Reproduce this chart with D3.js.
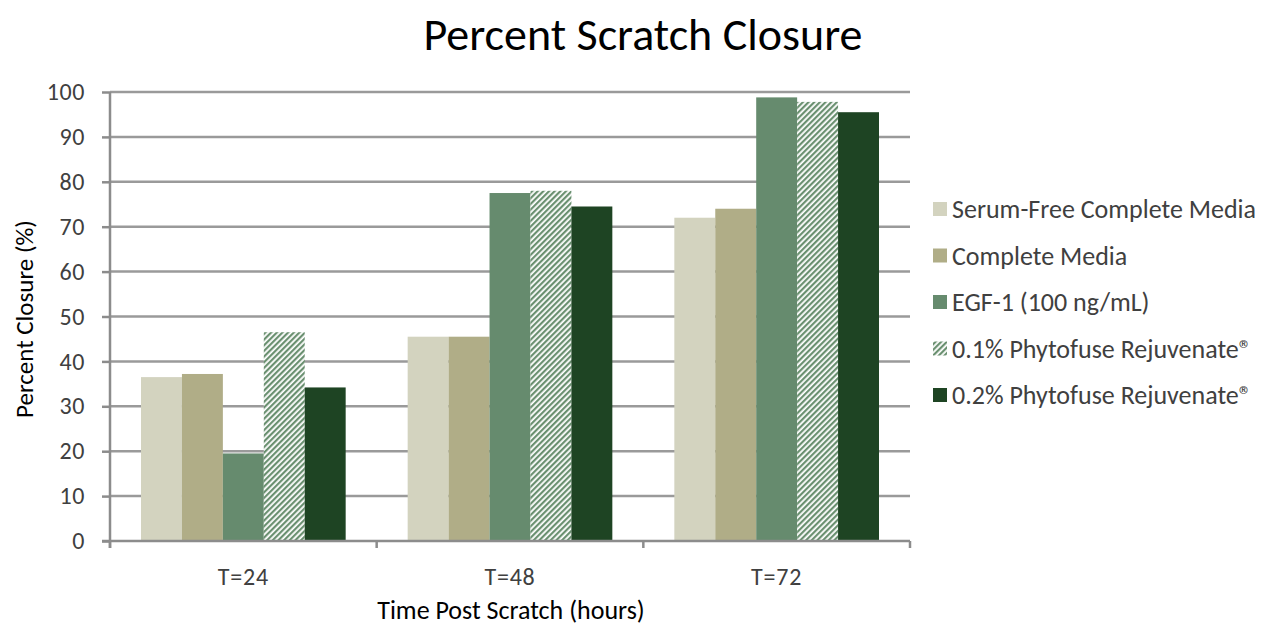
<!DOCTYPE html>
<html>
<head>
<meta charset="utf-8">
<script src="https://cdn.jsdelivr.net/npm/d3@7"></script>
<style>
  body { margin: 0; background: #fff; }
  text { font-family: Carlito, "Open Sans", "Noto Sans", sans-serif; fill: #262626; }
</style>
</head>
<body>
<svg id="chart" width="1263" height="628"></svg>
<script>
// data
var times = ["T=24", "T=48", "T=72"];
var series = ["Serum-Free Complete Media", "Complete Media", "EGF-1 (100 ng/mL)",
              "0.1% Phytofuse Rejuvenate\u00AE", "0.2% Phytofuse Rejuvenate\u00AE"];
var serumFree = [36.5, 45.5, 72.0];
var complete  = [37.2, 45.5, 74.0];
var egf       = [19.5, 77.5, 98.8];
var phyto01   = [46.5, 78.0, 97.8];
var phyto02   = [34.2, 74.5, 95.5];
var yTicks = [0, 10, 20, 30, 40, 50, 60, 70, 80, 90, 100];

var values = [serumFree, complete, egf, phyto01, phyto02];
var colors = ["#d3d3bf", "#b0ad87", "#668b6e", "url(#hatch)", "#1e4423"];

var svg = d3.select("#chart");
var plotLeft = 110, plotRight = 910, plotTop = 92, plotBottom = 541;

var defs = svg.append("defs");
var pat = defs.append("pattern")
    .attr("id", "hatch")
    .attr("patternUnits", "userSpaceOnUse")
    .attr("width", 4).attr("height", 4)
    .attr("patternTransform", "rotate(45)");
pat.append("rect").attr("width", 4).attr("height", 4).attr("fill", "#fff");
pat.append("rect").attr("width", 2.2).attr("height", 4).attr("fill", "#6a9070");

var x0 = d3.scaleBand().domain(times).range([plotLeft, plotRight]).padding(0);
var x1 = d3.scaleBand().domain(d3.range(series.length))
    .range([31, x0.bandwidth() - 31]).padding(0);
var y = d3.scaleLinear().domain([0, 100]).range([plotBottom, plotTop]);

// gridlines
svg.append("g").selectAll("line")
  .data(yTicks.filter(function(d) { return d > 0; }))
  .enter().append("line")
  .attr("x1", plotLeft).attr("x2", plotRight)
  .attr("y1", function(d) { return y(d); })
  .attr("y2", function(d) { return y(d); })
  .attr("stroke", "#9a9a9a").attr("stroke-width", 2.5);

// bars
var groups = svg.append("g").selectAll("g")
  .data(times)
  .enter().append("g")
  .attr("transform", function(d) { return "translate(" + x0(d) + ",0)"; });

groups.selectAll("rect")
  .data(function(t, i) { return values.map(function(v, s) { return {s: s, v: v[i]}; }); })
  .enter().append("rect")
  .attr("x", function(d) { return x1(d.s); })
  .attr("width", x1.bandwidth())
  .attr("y", function(d) { return y(d.v); })
  .attr("height", function(d) { return plotBottom - y(d.v); })
  .attr("fill", function(d) { return colors[d.s]; });

// y axis
var yAxis = svg.append("g")
  .attr("transform", "translate(" + plotLeft + ",0)")
  .call(d3.axisLeft(y).tickValues(yTicks).tickSize(8).tickPadding(17));
yAxis.select(".domain").remove();
yAxis.selectAll("line").attr("stroke", "#8c8c8c").attr("stroke-width", 2.5);
yAxis.selectAll("text").attr("font-size", 24).attr("letter-spacing", 0.6)
  .style("fill", "#404040")
  .attr("font-family", 'Carlito, "Open Sans", "Noto Sans", sans-serif');
svg.append("line")
  .attr("x1", plotLeft).attr("x2", plotLeft)
  .attr("y1", plotTop).attr("y2", plotBottom + 7)
  .attr("stroke", "#8c8c8c").attr("stroke-width", 2.5);

// x axis
svg.append("line")
  .attr("x1", plotLeft - 8).attr("x2", plotRight)
  .attr("y1", plotBottom).attr("y2", plotBottom)
  .attr("stroke", "#8c8c8c").attr("stroke-width", 2.5);
svg.append("g").selectAll("line")
  .data([0, 1, 2, 3])
  .enter().append("line")
  .attr("x1", function(i) { return plotLeft + i * x0.step(); })
  .attr("x2", function(i) { return plotLeft + i * x0.step(); })
  .attr("y1", plotBottom).attr("y2", plotBottom + 7)
  .attr("stroke", "#8c8c8c").attr("stroke-width", 2.5);
svg.append("g").selectAll("text")
  .data(times)
  .enter().append("text")
  .attr("x", function(d) { return x0(d) + x0.bandwidth() / 2; })
  .attr("y", 585)
  .attr("text-anchor", "middle")
  .attr("font-size", 24)
  .attr("letter-spacing", 0.8)
  .style("fill", "#404040")
  .text(function(d) { return d; });

// titles
svg.append("text")
  .attr("x", 643).attr("y", 50)
  .attr("text-anchor", "middle")
  .attr("font-size", 46)
  .style("fill", "#000")
  .text("Percent Scratch Closure");

svg.append("text")
  .attr("x", 511).attr("y", 619)
  .attr("text-anchor", "middle")
  .attr("font-size", 26)
  .style("fill", "#000")
  .text("Time Post Scratch (hours)");

svg.append("text")
  .attr("transform", "translate(33,319) rotate(-90)")
  .attr("text-anchor", "middle")
  .attr("font-size", 25)
  .style("fill", "#000")
  .text("Percent Closure (%)");

// legend
var legend = svg.append("g").selectAll("g")
  .data(series)
  .enter().append("g")
  .attr("transform", function(d, i) { return "translate(933," + (209 + i * 46.5) + ")"; });
legend.append("rect")
  .attr("x", 0).attr("y", -7)
  .attr("width", 14).attr("height", 14)
  .attr("fill", function(d, i) { return colors[i]; });
legend.append("text")
  .attr("x", 19).attr("y", 9)
  .attr("font-size", 26)
  .style("fill", "#404040")
  .text(function(d) { return d; });
</script>
</body>
</html>
